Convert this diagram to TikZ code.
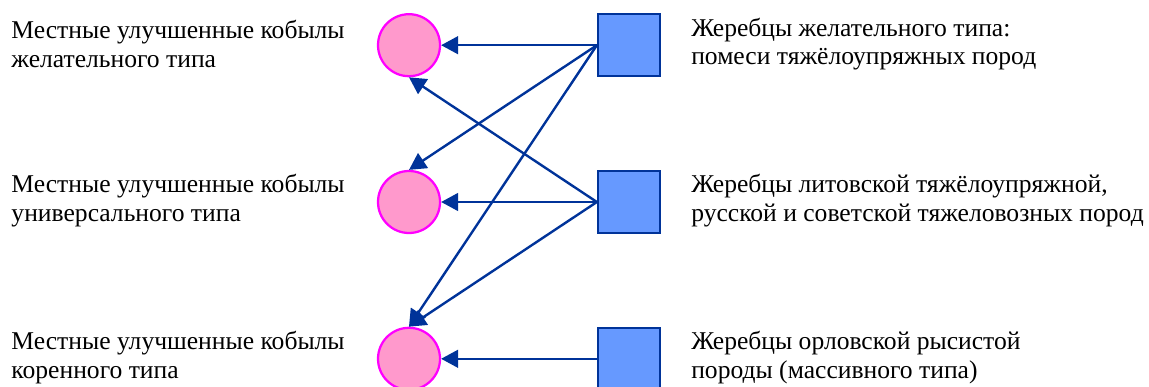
\documentclass[tikz,border=0pt]{standalone}
\usepackage{fontspec}
\setmainfont{Liberation Serif}
\usetikzlibrary{arrows.meta, positioning}

\definecolor{mare}{HTML}{FF99CC}
\definecolor{rim}{HTML}{FF00FF}
\definecolor{stallion}{HTML}{6699FF}
\definecolor{link}{HTML}{003399}

\begin{document}
\begin{tikzpicture}
        \useasboundingbox (0, 0) rectangle (28.725, -9.675);
        \tikzset{
            mare/.style={circle, draw=rim, line width=1.6pt, fill=mare, minimum size=1.55cm, inner sep=0},
            stud/.style={rectangle, draw=link, line width=1.6pt, fill=stallion, minimum size=1.55cm, inner sep=0},
            txt/.style={align=left, inner sep=0, font=\rmfamily\fontsize{18.2}{20.4}\selectfont},
            link/.style={draw=link, line width=1.7pt, -{Triangle[length=12pt, width=12.5pt]}}
        }

        \node[mare] (a) at (10.225, -1.13) {};
        \node[mare] (b) at (10.225, -5.05) {};
        \node[mare] (c) at (10.225, -8.97) {};

        \node[stud] (d) at (15.725, -1.13) {};
        \node[stud] (e) at (15.725, -5.05) {};
        \node[stud] (f) at (15.725, -8.97) {};

        \node[txt, anchor=west] (ta) at (0.28, -1.1) {Местные улучшенные кобылы\\желательного типа};
        \node[txt, anchor=west] (tb) at (0.28, -5.02) {Местные улучшенные кобылы\\универсального типа};
        \node[txt, anchor=west] (tc) at (0.28, -8.94) {Местные улучшенные кобылы\\коренного типа};

        \node[txt, anchor=west] (td) at (17.275, -1.1) {Жеребцы желательного типа:\\помеси тяжёлоупряжных пород};
        \node[txt, anchor=west] (te) at (17.275, -5.02) {Жеребцы литовской тяжёлоупряжной,\\русской и советской тяжеловозных пород};
        \node[txt, anchor=west] (tf) at (17.275, -8.94) {Жеребцы орловской рысистой\\породы (массивного типа)};

        \draw[link] (d.west) to (a);
        \draw[link] (d.west) to (b.north);
        \draw[link] (d.west) to (c.north);
        \draw[link] (e.west) to (a.south);
        \draw[link] (e.west) to (b);
        \draw[link] (e.west) to (c.north);
        \draw[link] (f.west) to (c);
    \end{tikzpicture}
\end{document}
